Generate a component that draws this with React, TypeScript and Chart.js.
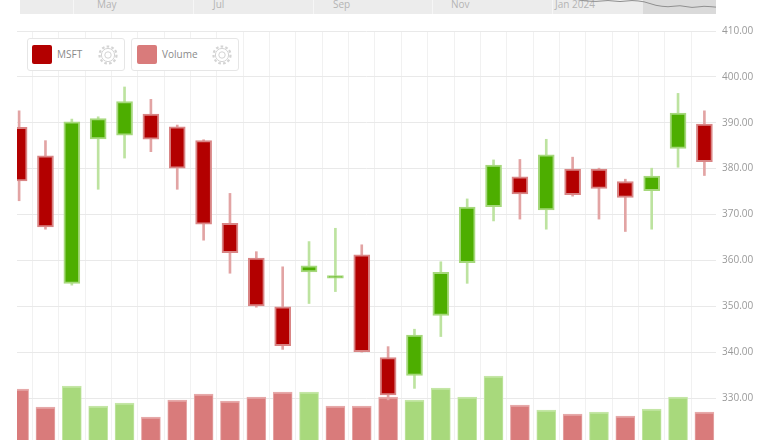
import React, { useEffect, useRef } from "react";
import { Chart, registerables } from "chart.js";
Chart.register(...registerables);

// ---- data ----
const weeks = [
  "2023-07-03", "2023-07-10", "2023-07-17", "2023-07-24", "2023-07-31", "2023-08-07",
  "2023-08-14", "2023-08-21", "2023-08-28", "2023-09-04", "2023-09-11", "2023-09-18",
  "2023-09-25", "2023-10-02", "2023-10-09", "2023-10-16", "2023-10-23", "2023-10-30",
  "2023-11-06", "2023-11-13", "2023-11-20", "2023-11-27", "2023-12-04", "2023-12-11",
  "2023-12-18", "2023-12-25", "2024-01-01",
];
const openP = [389.0, 382.8, 355.0, 386.5, 387.3, 391.9, 389.1, 386.1, 368.1, 360.5, 349.9, 357.5, 356.1, 361.2, 338.8, 334.9, 348.0, 359.5, 371.7, 378.2, 371.0, 379.9, 379.9, 377.2, 375.2, 384.4, 389.7];
const highP = [392.6, 386.1, 390.8, 391.3, 397.8, 395.1, 389.5, 386.3, 374.6, 361.9, 358.6, 364.1, 367.0, 363.4, 341.2, 345.0, 359.7, 373.4, 381.9, 382.0, 386.4, 382.5, 380.1, 377.7, 380.1, 396.4, 392.6];
const lowP = [373.0, 366.8, 354.6, 375.5, 382.3, 383.7, 375.5, 364.4, 357.2, 349.8, 340.6, 350.6, 353.2, 340.0, 329.6, 332.1, 343.4, 355.0, 368.6, 369.0, 366.8, 374.0, 369.0, 366.3, 366.8, 380.3, 378.5];
const closeP = [377.3, 367.3, 390.2, 390.9, 394.6, 386.4, 380.1, 367.9, 361.7, 350.1, 341.4, 358.8, 356.7, 340.1, 330.7, 343.7, 357.4, 371.6, 380.8, 374.5, 383.0, 374.3, 375.7, 373.7, 378.4, 392.1, 381.5];
const volumeM = [153, 99, 162, 102, 111, 69, 120, 138, 117, 129, 144, 144, 102, 102, 129, 120, 156, 129, 192, 105, 90, 78, 84, 72, 93, 129, 84];
const priceTicks = [330, 340, 350, 360, 370, 380, 390, 400, 410];
const navMonths = ["May", "Jul", "Sep", "Nov", "Jan 2024"];
const navLine = [12, 11, 9.5, 9.0, 9.6, 8.9, 9.6, 8.7, 6.2, 5.2, 5.9, 4.7, 5.5, 4.9];

const RED = "#b30000";
const RED_HALO = "#d98585";
const RED_WICK = "#e2a4a4";
const GREEN = "#4dae00";
const GREEN_HALO = "#a6d87c";
const GREEN_WICK = "#bde3a0";
const RED_VOL = "#d97b7b";
const GREEN_VOL = "#a8d97c";

const FONT = "'Open Sans', 'DejaVu Sans', sans-serif";

function Gear({ left }: { left: number }) {
  return (
    <svg
      width={22}
      height={22}
      viewBox="0 0 22 22"
      style={{ position: "absolute", left, top: 44 }}
    >
      <circle cx="11" cy="11" r="8.5" fill="none" stroke="#d4d4d4" strokeWidth="2.2" strokeDasharray="2.6 2.2" />
      <circle cx="11" cy="11" r="6.6" fill="none" stroke="#d4d4d4" strokeWidth="1" />
      <circle cx="11" cy="11" r="3.2" fill="none" stroke="#d4d4d4" strokeWidth="1" />
    </svg>
  );
}

export default function App() {
  const ref = useRef<HTMLCanvasElement | null>(null);
  const navRef = useRef<HTMLCanvasElement | null>(null);

  useEffect(() => {
    if (!ref.current || !navRef.current) return;
    const up = weeks.map((_, i) => closeP[i] >= openP[i]);
    const volUp = weeks.map((_, i) => (i === 0 ? closeP[0] >= openP[0] : closeP[i] >= closeP[i - 1]));
    const xs = weeks.map((_, i) => i + 1);
    const gridXs = weeks.slice(1).map((_, i) => i + 1.5);

    const chart = new Chart(ref.current, {
      type: "bar",
      data: {
        datasets: [
          {
            label: "Volume",
            data: xs.map((x, i) => ({ x, y: volumeM[i] })) as any,
            yAxisID: "yv",
            backgroundColor: volUp.map((u) => (u ? GREEN_VOL : RED_VOL)),
            borderColor: volUp.map((u) => (u ? "#c4e6a6" : "#e6a9a9")),
            borderWidth: { top: 2, left: 1, right: 1, bottom: 0 } as any,
            borderSkipped: false as any,
            barThickness: 19,
            grouped: false,
            order: 3,
          } as any,
          {
            label: "wick",
            data: xs.map((x, i) => ({ x, y: [lowP[i], highP[i]] })) as any,
            yAxisID: "y",
            backgroundColor: up.map((u) => (u ? GREEN_WICK : RED_WICK)),
            barThickness: 2,
            grouped: false,
            order: 2,
          } as any,
          {
            label: "MSFT",
            data: xs.map((x, i) => ({ x, y: [openP[i], closeP[i]] })) as any,
            yAxisID: "y",
            backgroundColor: up.map((u) => (u ? GREEN : RED)),
            borderColor: up.map((u) => (u ? GREEN_HALO : RED_HALO)),
            borderWidth: 2,
            borderSkipped: false as any,
            barThickness: 16,
            grouped: false,
            order: 1,
          } as any,
        ],
      },
      options: {
        animation: false,
        responsive: false,
        maintainAspectRatio: false,
        layout: { padding: { top: 31, left: 17, right: 0, bottom: 0 } },
        plugins: { legend: { display: false }, tooltip: { enabled: false } },
        scales: {
          x: {
            type: "linear",
            offset: false,
            min: 0.92,
            max: 27.44,
            grid: { color: "#f1f1f1", drawTicks: false, offset: false },
            border: { display: false },
            ticks: { display: false },
            afterBuildTicks: (s: any) => {
              s.ticks = gridXs.map((v) => ({ value: v }));
            },
            afterFit: (s: any) => {
              s.height = 0;
            },
          },
          y: {
            position: "right",
            min: 320.85,
            max: 410,
            grid: { color: "#e9e9e9", drawTicks: false },
            border: { display: false },
            ticks: {
              padding: 6,
              color: "#9a9a9a",
              font: { size: 10, family: FONT },
              callback: (v: any) => Number(v).toFixed(2),
            },
            afterBuildTicks: (s: any) => {
              s.ticks = priceTicks.map((v) => ({ value: v }));
            },
            afterFit: (s: any) => {
              s.width = 64;
              s.paddingTop = 0;
              s.paddingBottom = 0;
            },
          },
          yv: {
            display: false,
            min: 0,
            max: 1227,
          },
        },
      },
    } as any);

    const nav = new Chart(navRef.current, {
      type: "line",
      data: {
        labels: navLine.map((_, i) => String(i)),
        datasets: [
          {
            data: navLine,
            borderColor: "#8f8f8f",
            borderWidth: 1,
            pointRadius: 0,
            tension: 0.3,
          },
        ],
      },
      options: {
        animation: false,
        responsive: false,
        maintainAspectRatio: false,
        layout: { padding: 0 },
        plugins: { legend: { display: false }, tooltip: { enabled: false } },
        scales: {
          x: { display: false, offset: false },
          y: { display: false, min: 0, max: 10 },
        },
      },
    } as any);

    return () => {
      chart.destroy();
      nav.destroy();
    };
  }, []);

  const navLabelX = [97, 213, 333, 451, 555];
  const navSeps = [73, 193, 313, 432, 552];

  return (
    <div
      style={{
        position: "fixed",
        left: 0,
        top: 0,
        width: 780,
        height: 440,
        overflow: "hidden",
        background: "#ffffff",
        fontFamily: FONT,
      }}
    >
      <canvas ref={ref} width={780} height={440} style={{ position: "absolute", left: 0, top: 0 }} />

      {/* navigator */}
      <div style={{ position: "absolute", left: 20, top: 0, width: 696, height: 14, background: "#ececec" }} />
      {navSeps.map((x, i) => (
        <div key={"s" + i} style={{ position: "absolute", left: x, top: 0, width: 1, height: 14, background: "#f6f6f6" }} />
      ))}
      <div style={{ position: "absolute", left: 643, top: 0, width: 73, height: 14, background: "#dadada" }} />
      {navMonths.map((m, i) => (
        <div
          key={m}
          style={{
            position: "absolute",
            left: navLabelX[i],
            top: -3,
            fontSize: 10,
            lineHeight: "14px",
            color: "#b4b4b4",
            whiteSpace: "nowrap",
          }}
        >
          {m}
        </div>
      ))}
      <canvas ref={navRef} width={156} height={14} style={{ position: "absolute", left: 560, top: 0 }} />

      {/* legend */}
      <div
        style={{
          position: "absolute",
          left: 27,
          top: 38,
          width: 96,
          height: 31,
          border: "1px solid #e6e6e6",
          borderRadius: 3,
          background: "#fff",
        }}
      />
      <div style={{ position: "absolute", left: 32, top: 45, width: 20, height: 19, borderRadius: 2, background: RED }} />
      <div style={{ position: "absolute", left: 57, top: 47, fontSize: 10, lineHeight: "14px", color: "#8a8a8a" }}>MSFT</div>
      <Gear left={97} />

      <div
        style={{
          position: "absolute",
          left: 131,
          top: 38,
          width: 106,
          height: 31,
          border: "1px solid #e6e6e6",
          borderRadius: 3,
          background: "#fff",
        }}
      />
      <div style={{ position: "absolute", left: 137, top: 45, width: 20, height: 19, borderRadius: 2, background: RED_VOL }} />
      <div style={{ position: "absolute", left: 162, top: 47, fontSize: 10, lineHeight: "14px", color: "#8a8a8a" }}>Volume</div>
      <Gear left={211} />
    </div>
  );
}
